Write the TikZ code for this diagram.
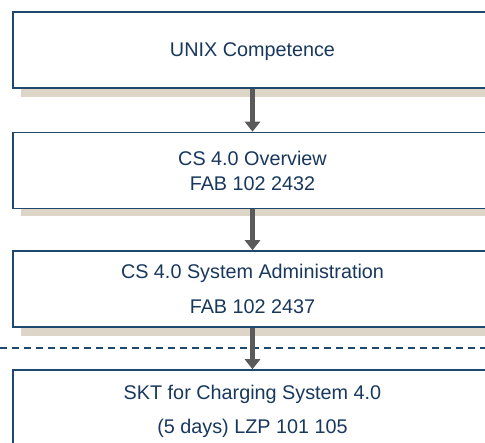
\documentclass[tikz,border=0pt]{standalone}
\usepackage{fontspec}
\setmainfont{Liberation Sans}
\usetikzlibrary{positioning, arrows.meta}

\definecolor{boxblue}{RGB}{31,72,110}
\definecolor{textblue}{RGB}{24,56,94}
\definecolor{shadowtan}{RGB}{221,214,200}
\definecolor{arrowgrey}{RGB}{90,90,90}

\tikzset{
  coursebox/.style={draw=boxblue, line width=1.5pt, fill=white, text=textblue,
    minimum width=479pt, minimum height=76pt, inner sep=0pt, align=center,
    font=\fontsize{19.8}{25}\selectfont},
  boxshadow/.style={fill=shadowtan, draw=none},
  flowarrow/.style={draw=arrowgrey, line width=5pt, -{Triangle[width=15pt,length=10pt]}},
  sepline/.style={draw=boxblue, line width=1.5pt, dash pattern=on 7pt off 5pt},
}

\begin{document}
\begin{tikzpicture}[x=1pt,y=1pt,yscale=-1,xscale=1]
\clip (0,0) rectangle (485,443);

%Shape: Shadows
\path [boxshadow] (21,20) rectangle (500,97);
\path [boxshadow] (21,140) rectangle (500,216);
\path [boxshadow] (21,259) rectangle (500,336);

%Shape: Course boxes
\node [coursebox, text depth=0pt] (unix) at (252.5,50) {UNIX Competence};
\node [coursebox] (overview) at (252.5,170.5) {CS 4.0 Overview\\FAB 102 2432};
\node [coursebox] (sysadmin) at (252.5,289) {CS 4.0 System Administration\\[10pt]FAB 102 2437};
\node [coursebox, minimum height=82pt] (skt) at (252.5,411) {SKT for Charging System 4.0\\[9pt](5 days) LZP 101 105};

%Straight Lines: separator
\coordinate (sepleft) at (0,348);
\coordinate (sepright) at (485,348);
\draw [sepline] (sepleft) -- (sepright);

%Arrows
\draw [flowarrow] (unix.south) -- (overview.north);
\draw [flowarrow] (overview.south) -- (sysadmin.north);
\draw [flowarrow] (sysadmin.south) -- (skt.north);

\end{tikzpicture}
\end{document}
